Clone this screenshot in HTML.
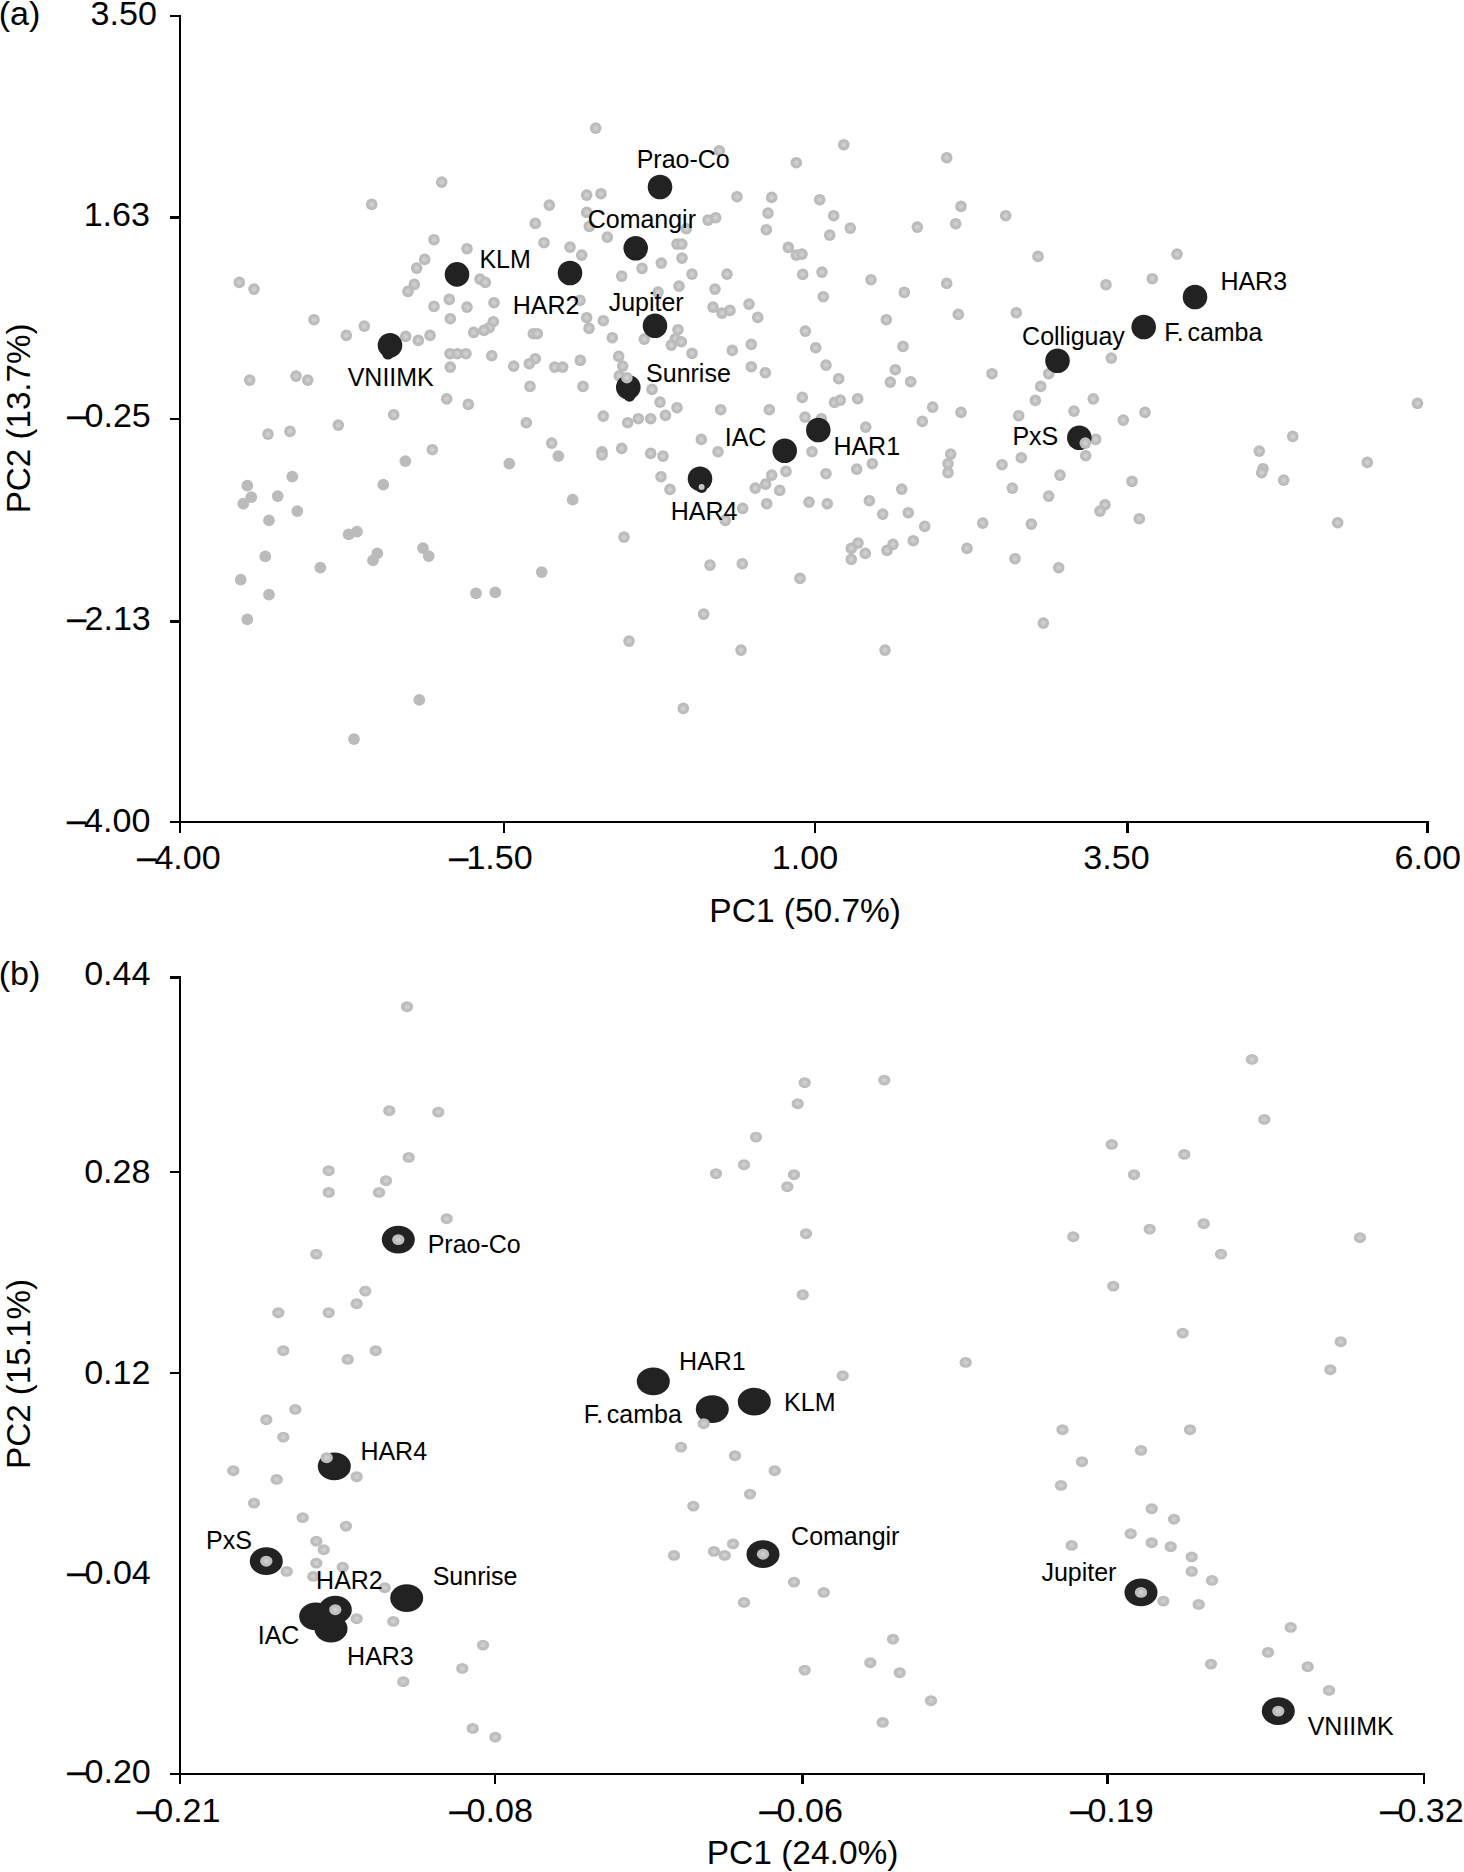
<!DOCTYPE html>
<html><head><meta charset="utf-8"><title>PCA</title>
<style>
html,body{margin:0;padding:0;background:#fff;}
body{width:1464px;height:1872px;overflow:hidden;}
svg{display:block;}
text{font-family:"Liberation Sans",sans-serif;fill:#000;}
.t{font-size:33.1px;}
.l{font-size:25.9px;}
</style></head><body>
<svg width="1464" height="1872" viewBox="0 0 1464 1872">
<defs>
<radialGradient id="ga"><stop offset="0" stop-color="#d0d0d0"/><stop offset="0.3" stop-color="#cdcdcd"/><stop offset="0.56" stop-color="#bdbdbd"/><stop offset="1" stop-color="#bababa"/></radialGradient>
<radialGradient id="gb"><stop offset="0" stop-color="#d1d1d1"/><stop offset="0.28" stop-color="#cdcdcd"/><stop offset="0.54" stop-color="#bfbfbf"/><stop offset="1" stop-color="#bcbcbc"/></radialGradient>
</defs>
<rect width="100%" height="100%" fill="#fff"/>
<g fill="#000" shape-rendering="crispEdges"><rect x="179" y="15" width="2" height="818"/><rect x="170" y="821" width="1259" height="2"/><rect x="170" y="15" width="11" height="2"/><rect x="170" y="216" width="11" height="3"/><rect x="170" y="418" width="11" height="2"/><rect x="170" y="620" width="11" height="3"/><rect x="503" y="821" width="2" height="12"/><rect x="814" y="821" width="2" height="12"/><rect x="1126" y="821" width="3" height="12"/><rect x="1426" y="821" width="3" height="12"/><rect x="179" y="976" width="2" height="808"/><rect x="170" y="1773" width="1255" height="2"/><rect x="170" y="976" width="11" height="3"/><rect x="170" y="1171" width="11" height="2"/><rect x="170" y="1372" width="11" height="2"/><rect x="494" y="1773" width="2" height="11"/><rect x="801" y="1773" width="3" height="11"/><rect x="1106" y="1773" width="3" height="11"/><rect x="1423" y="1773" width="2" height="11"/></g>
<text class="t" transform="translate(156.9,24.9) scale(1.03,1)" text-anchor="end">3.50</text>
<text class="t" transform="translate(150.0,226.2) scale(1.03,1)" text-anchor="end">1.63</text>
<text class="t" transform="translate(150.8,426.7) scale(1.03,1)" text-anchor="end"><tspan dy="-0.9" stroke="#000" stroke-width="0.55">–</tspan><tspan dy="0.9" dx="-1.8">0.25</tspan></text>
<text class="t" transform="translate(150.8,629.5) scale(1.03,1)" text-anchor="end"><tspan dy="-0.9" stroke="#000" stroke-width="0.55">–</tspan><tspan dy="0.9" dx="-1.8">2.13</tspan></text>
<text class="t" transform="translate(150.4,831.9) scale(1.03,1)" text-anchor="end"><tspan dy="-0.9" stroke="#000" stroke-width="0.55">–</tspan><tspan dy="0.9" dx="-1.8">4.00</tspan></text>
<text class="t" transform="translate(179,868.8) scale(1.03,1)" text-anchor="middle"><tspan dy="-0.9" stroke="#000" stroke-width="0.55">–</tspan><tspan dy="0.9" dx="-1.8">4.00</tspan></text>
<text class="t" transform="translate(491,868.8) scale(1.03,1)" text-anchor="middle"><tspan dy="-0.9" stroke="#000" stroke-width="0.55">–</tspan><tspan dy="0.9" dx="-1.8">1.50</tspan></text>
<text class="t" transform="translate(805,868.8) scale(1.03,1)" text-anchor="middle">1.00</text>
<text class="t" transform="translate(1116.5,868.8) scale(1.03,1)" text-anchor="middle">3.50</text>
<text class="t" transform="translate(1427.7,868.8) scale(1.03,1)" text-anchor="middle">6.00</text>
<text class="t" transform="translate(805.2,921.7) scale(1.012,1)" text-anchor="middle">PC1 (50.7%)</text>
<text class="t" transform="translate(30.3,418.4) rotate(-90) scale(1.003,1)" text-anchor="middle">PC2 (13.7%)</text>
<text class="t" transform="translate(-1.3,25.2) scale(1.03,1)" text-anchor="start">(a)</text>
<text class="t" transform="translate(150.5,985.1) scale(1.03,1)" text-anchor="end">0.44</text>
<text class="t" transform="translate(150.5,1183.3) scale(1.03,1)" text-anchor="end">0.28</text>
<text class="t" transform="translate(150.5,1384.1) scale(1.03,1)" text-anchor="end">0.12</text>
<text class="t" transform="translate(150.8,1583.5) scale(1.03,1)" text-anchor="end"><tspan dy="-0.9" stroke="#000" stroke-width="0.55">–</tspan><tspan dy="0.9" dx="-1.8">0.04</tspan></text>
<text class="t" transform="translate(150.8,1783.2) scale(1.03,1)" text-anchor="end"><tspan dy="-0.9" stroke="#000" stroke-width="0.55">–</tspan><tspan dy="0.9" dx="-1.8">0.20</tspan></text>
<text class="t" transform="translate(178.8,1821.5) scale(1.03,1)" text-anchor="middle"><tspan dy="-0.9" stroke="#000" stroke-width="0.55">–</tspan><tspan dy="0.9" dx="-1.8">0.21</tspan></text>
<text class="t" transform="translate(491.2,1821.5) scale(1.03,1)" text-anchor="middle"><tspan dy="-0.9" stroke="#000" stroke-width="0.55">–</tspan><tspan dy="0.9" dx="-1.8">0.08</tspan></text>
<text class="t" transform="translate(801.2,1821.5) scale(1.03,1)" text-anchor="middle"><tspan dy="-0.9" stroke="#000" stroke-width="0.55">–</tspan><tspan dy="0.9" dx="-1.8">0.06</tspan></text>
<text class="t" transform="translate(1112,1821.5) scale(1.03,1)" text-anchor="middle"><tspan dy="-0.9" stroke="#000" stroke-width="0.55">–</tspan><tspan dy="0.9" dx="-1.8">0.19</tspan></text>
<text class="t" transform="translate(1422,1821.5) scale(1.03,1)" text-anchor="middle"><tspan dy="-0.9" stroke="#000" stroke-width="0.55">–</tspan><tspan dy="0.9" dx="-1.8">0.32</tspan></text>
<text class="t" transform="translate(802.6,1863.7) scale(1.012,1)" text-anchor="middle">PC1 (24.0%)</text>
<text class="t" transform="translate(30.3,1374) rotate(-90) scale(1.003,1)" text-anchor="middle">PC2 (15.1%)</text>
<text class="t" transform="translate(-1.3,985.3) scale(1.03,1)" text-anchor="start">(b)</text>
<g><circle cx="595.7" cy="128.1" r="5.8" fill="url(#ga)"/><circle cx="441.7" cy="182.1" r="5.8" fill="url(#ga)"/><circle cx="371.7" cy="204.4" r="5.8" fill="url(#ga)"/><circle cx="586.7" cy="195.1" r="5.8" fill="url(#ga)"/><circle cx="601.0" cy="193.7" r="5.8" fill="url(#ga)"/><circle cx="549.3" cy="205.1" r="5.8" fill="url(#ga)"/><circle cx="586.7" cy="212.4" r="5.8" fill="url(#ga)"/><circle cx="535.3" cy="223.4" r="5.8" fill="url(#ga)"/><circle cx="589.3" cy="226.4" r="5.8" fill="url(#ga)"/><circle cx="607.3" cy="237.1" r="5.8" fill="url(#ga)"/><circle cx="544.0" cy="242.7" r="5.8" fill="url(#ga)"/><circle cx="570.0" cy="247.1" r="5.8" fill="url(#ga)"/><circle cx="581.7" cy="255.1" r="5.8" fill="url(#ga)"/><circle cx="434.0" cy="239.7" r="5.8" fill="url(#ga)"/><circle cx="467.0" cy="248.7" r="5.8" fill="url(#ga)"/><circle cx="424.7" cy="259.4" r="5.8" fill="url(#ga)"/><circle cx="416.7" cy="268.1" r="5.8" fill="url(#ga)"/><circle cx="414.3" cy="284.4" r="5.8" fill="url(#ga)"/><circle cx="408.0" cy="291.4" r="5.8" fill="url(#ga)"/><circle cx="480.0" cy="279.1" r="5.8" fill="url(#ga)"/><circle cx="485.3" cy="282.4" r="5.8" fill="url(#ga)"/><circle cx="239.3" cy="282.4" r="5.8" fill="url(#ga)"/><circle cx="254.0" cy="289.1" r="5.8" fill="url(#ga)"/><circle cx="449.3" cy="299.4" r="5.8" fill="url(#ga)"/><circle cx="434.0" cy="306.4" r="5.8" fill="url(#ga)"/><circle cx="467.0" cy="307.1" r="5.8" fill="url(#ga)"/><circle cx="494.0" cy="302.7" r="5.8" fill="url(#ga)"/><circle cx="450.3" cy="318.7" r="5.8" fill="url(#ga)"/><circle cx="493.3" cy="321.7" r="5.8" fill="url(#ga)"/><circle cx="489.3" cy="327.7" r="5.8" fill="url(#ga)"/><circle cx="484.0" cy="330.4" r="5.8" fill="url(#ga)"/><circle cx="473.7" cy="332.4" r="5.8" fill="url(#ga)"/><circle cx="314.0" cy="319.7" r="5.8" fill="url(#ga)"/><circle cx="364.3" cy="326.1" r="5.8" fill="url(#ga)"/><circle cx="346.3" cy="335.4" r="5.8" fill="url(#ga)"/><circle cx="405.7" cy="336.4" r="5.8" fill="url(#ga)"/><circle cx="430.0" cy="335.4" r="5.8" fill="url(#ga)"/><circle cx="418.3" cy="340.4" r="5.8" fill="url(#ga)"/><circle cx="661.3" cy="263.1" r="5.8" fill="url(#ga)"/><circle cx="642.0" cy="268.4" r="5.8" fill="url(#ga)"/><circle cx="621.7" cy="276.1" r="5.8" fill="url(#ga)"/><circle cx="658.0" cy="292.1" r="5.8" fill="url(#ga)"/><circle cx="580.0" cy="300.4" r="5.8" fill="url(#ga)"/><circle cx="586.7" cy="317.7" r="5.8" fill="url(#ga)"/><circle cx="603.3" cy="320.7" r="5.8" fill="url(#ga)"/><circle cx="589.0" cy="328.4" r="5.8" fill="url(#ga)"/><circle cx="612.3" cy="337.7" r="5.8" fill="url(#ga)"/><circle cx="644.3" cy="339.1" r="5.8" fill="url(#ga)"/><circle cx="533.3" cy="333.7" r="5.8" fill="url(#ga)"/><circle cx="537.3" cy="333.7" r="5.8" fill="url(#ga)"/><circle cx="450.0" cy="353.7" r="5.8" fill="url(#ga)"/><circle cx="457.3" cy="353.7" r="5.8" fill="url(#ga)"/><circle cx="466.0" cy="353.7" r="5.8" fill="url(#ga)"/><circle cx="491.7" cy="355.7" r="5.8" fill="url(#ga)"/><circle cx="535.3" cy="358.7" r="5.8" fill="url(#ga)"/><circle cx="529.3" cy="363.7" r="5.8" fill="url(#ga)"/><circle cx="513.7" cy="366.1" r="5.8" fill="url(#ga)"/><circle cx="554.7" cy="367.1" r="5.8" fill="url(#ga)"/><circle cx="562.7" cy="367.1" r="5.8" fill="url(#ga)"/><circle cx="580.3" cy="360.4" r="5.8" fill="url(#ga)"/><circle cx="618.7" cy="356.4" r="5.8" fill="url(#ga)"/><circle cx="622.7" cy="366.1" r="5.8" fill="url(#ga)"/><circle cx="450.3" cy="367.1" r="5.8" fill="url(#ga)"/><circle cx="249.7" cy="380.1" r="5.8" fill="url(#ga)"/><circle cx="296.0" cy="376.1" r="5.8" fill="url(#ga)"/><circle cx="307.7" cy="380.1" r="5.8" fill="url(#ga)"/><circle cx="530.0" cy="386.4" r="5.8" fill="url(#ga)"/><circle cx="583.0" cy="386.4" r="5.8" fill="url(#ga)"/><circle cx="652.0" cy="389.4" r="5.8" fill="url(#ga)"/><circle cx="619.3" cy="375.9" r="5.8" fill="url(#ga)"/><circle cx="446.7" cy="398.9" r="5.8" fill="url(#ga)"/><circle cx="468.3" cy="404.4" r="5.8" fill="url(#ga)"/><circle cx="843.7" cy="144.7" r="5.8" fill="url(#ga)"/><circle cx="719.3" cy="150.7" r="5.8" fill="url(#ga)"/><circle cx="796.3" cy="162.7" r="5.8" fill="url(#ga)"/><circle cx="946.7" cy="157.7" r="5.8" fill="url(#ga)"/><circle cx="737.0" cy="196.7" r="5.8" fill="url(#ga)"/><circle cx="771.7" cy="197.4" r="5.8" fill="url(#ga)"/><circle cx="819.7" cy="199.7" r="5.8" fill="url(#ga)"/><circle cx="961.0" cy="206.4" r="5.8" fill="url(#ga)"/><circle cx="768.0" cy="213.1" r="5.8" fill="url(#ga)"/><circle cx="833.7" cy="215.7" r="5.8" fill="url(#ga)"/><circle cx="1005.7" cy="215.7" r="5.8" fill="url(#ga)"/><circle cx="708.0" cy="220.1" r="5.8" fill="url(#ga)"/><circle cx="715.7" cy="217.7" r="5.8" fill="url(#ga)"/><circle cx="766.3" cy="229.7" r="5.8" fill="url(#ga)"/><circle cx="850.3" cy="228.1" r="5.8" fill="url(#ga)"/><circle cx="917.3" cy="227.1" r="5.8" fill="url(#ga)"/><circle cx="955.7" cy="223.7" r="5.8" fill="url(#ga)"/><circle cx="829.7" cy="235.1" r="5.8" fill="url(#ga)"/><circle cx="686.3" cy="228.7" r="5.8" fill="url(#ga)"/><circle cx="677.0" cy="244.1" r="5.8" fill="url(#ga)"/><circle cx="681.8" cy="244.1" r="5.8" fill="url(#ga)"/><circle cx="682.0" cy="258.1" r="5.8" fill="url(#ga)"/><circle cx="788.3" cy="247.4" r="5.8" fill="url(#ga)"/><circle cx="796.3" cy="255.1" r="5.8" fill="url(#ga)"/><circle cx="802.0" cy="254.1" r="5.8" fill="url(#ga)"/><circle cx="1038.0" cy="256.4" r="5.8" fill="url(#ga)"/><circle cx="692.0" cy="274.1" r="5.8" fill="url(#ga)"/><circle cx="727.0" cy="274.1" r="5.8" fill="url(#ga)"/><circle cx="802.7" cy="274.4" r="5.8" fill="url(#ga)"/><circle cx="822.0" cy="272.1" r="5.8" fill="url(#ga)"/><circle cx="871.0" cy="279.7" r="5.8" fill="url(#ga)"/><circle cx="946.7" cy="283.4" r="5.8" fill="url(#ga)"/><circle cx="1106.0" cy="284.7" r="5.8" fill="url(#ga)"/><circle cx="1152.3" cy="278.7" r="5.8" fill="url(#ga)"/><circle cx="679.0" cy="286.1" r="5.8" fill="url(#ga)"/><circle cx="715.0" cy="289.1" r="5.8" fill="url(#ga)"/><circle cx="904.3" cy="292.4" r="5.8" fill="url(#ga)"/><circle cx="823.3" cy="296.7" r="5.8" fill="url(#ga)"/><circle cx="713.0" cy="307.1" r="5.8" fill="url(#ga)"/><circle cx="722.0" cy="313.1" r="5.8" fill="url(#ga)"/><circle cx="730.0" cy="310.4" r="5.8" fill="url(#ga)"/><circle cx="749.0" cy="304.1" r="5.8" fill="url(#ga)"/><circle cx="757.7" cy="317.4" r="5.8" fill="url(#ga)"/><circle cx="886.3" cy="319.7" r="5.8" fill="url(#ga)"/><circle cx="958.3" cy="314.4" r="5.8" fill="url(#ga)"/><circle cx="1016.3" cy="312.7" r="5.8" fill="url(#ga)"/><circle cx="678.0" cy="329.7" r="5.8" fill="url(#ga)"/><circle cx="805.3" cy="331.1" r="5.8" fill="url(#ga)"/><circle cx="675.3" cy="338.7" r="5.8" fill="url(#ga)"/><circle cx="681.3" cy="341.7" r="5.8" fill="url(#ga)"/><circle cx="671.3" cy="345.1" r="5.8" fill="url(#ga)"/><circle cx="751.3" cy="344.4" r="5.8" fill="url(#ga)"/><circle cx="815.7" cy="347.7" r="5.8" fill="url(#ga)"/><circle cx="903.0" cy="346.4" r="5.8" fill="url(#ga)"/><circle cx="692.0" cy="353.4" r="5.8" fill="url(#ga)"/><circle cx="732.3" cy="350.4" r="5.8" fill="url(#ga)"/><circle cx="1111.3" cy="358.1" r="5.8" fill="url(#ga)"/><circle cx="751.3" cy="366.7" r="5.8" fill="url(#ga)"/><circle cx="765.3" cy="372.7" r="5.8" fill="url(#ga)"/><circle cx="826.0" cy="365.1" r="5.8" fill="url(#ga)"/><circle cx="895.3" cy="369.7" r="5.8" fill="url(#ga)"/><circle cx="838.7" cy="378.7" r="5.8" fill="url(#ga)"/><circle cx="890.3" cy="382.1" r="5.8" fill="url(#ga)"/><circle cx="910.7" cy="381.7" r="5.8" fill="url(#ga)"/><circle cx="992.0" cy="373.7" r="5.8" fill="url(#ga)"/><circle cx="1048.7" cy="373.7" r="5.8" fill="url(#ga)"/><circle cx="1040.7" cy="386.4" r="5.8" fill="url(#ga)"/><circle cx="802.3" cy="397.4" r="5.8" fill="url(#ga)"/><circle cx="834.5" cy="402.4" r="5.8" fill="url(#ga)"/><circle cx="840.3" cy="400.1" r="5.8" fill="url(#ga)"/><circle cx="857.7" cy="398.7" r="5.8" fill="url(#ga)"/><circle cx="1035.3" cy="400.4" r="5.8" fill="url(#ga)"/><circle cx="1093.3" cy="398.9" r="5.8" fill="url(#ga)"/><circle cx="1177.0" cy="254.1" r="5.8" fill="url(#ga)"/><circle cx="1417.5" cy="403.3" r="5.8" fill="url(#ga)"/><circle cx="393.7" cy="414.7" r="5.8" fill="url(#ga)"/><circle cx="338.3" cy="425.1" r="5.8" fill="url(#ga)"/><circle cx="268.0" cy="434.1" r="5.8" fill="url(#ga)"/><circle cx="290.0" cy="431.4" r="5.8" fill="url(#ga)"/><circle cx="526.3" cy="422.7" r="5.8" fill="url(#ga)"/><circle cx="603.3" cy="416.1" r="5.8" fill="url(#ga)"/><circle cx="627.7" cy="422.7" r="5.8" fill="url(#ga)"/><circle cx="638.3" cy="418.7" r="5.8" fill="url(#ga)"/><circle cx="650.7" cy="418.7" r="5.8" fill="url(#ga)"/><circle cx="665.5" cy="415.4" r="5.8" fill="url(#ga)"/><circle cx="660.0" cy="402.1" r="5.8" fill="url(#ga)"/><circle cx="551.7" cy="443.1" r="5.8" fill="url(#ga)"/><circle cx="558.3" cy="456.1" r="5.9" fill="#bbb"/><circle cx="432.3" cy="449.7" r="5.8" fill="url(#ga)"/><circle cx="405.3" cy="461.1" r="5.9" fill="#bbb"/><circle cx="509.3" cy="463.7" r="5.9" fill="#bbb"/><circle cx="602.0" cy="451.9" r="5.8" fill="url(#ga)"/><circle cx="602.0" cy="454.9" r="5.8" fill="url(#ga)"/><circle cx="621.7" cy="448.4" r="5.8" fill="url(#ga)"/><circle cx="650.7" cy="453.4" r="5.8" fill="url(#ga)"/><circle cx="663.0" cy="456.1" r="5.8" fill="url(#ga)"/><circle cx="661.0" cy="476.7" r="5.8" fill="url(#ga)"/><circle cx="670.0" cy="489.4" r="5.8" fill="url(#ga)"/><circle cx="292.3" cy="476.7" r="5.9" fill="#bbb"/><circle cx="247.3" cy="485.7" r="5.9" fill="#bbb"/><circle cx="251.3" cy="497.1" r="5.9" fill="#bbb"/><circle cx="243.3" cy="503.7" r="5.9" fill="#bbb"/><circle cx="277.7" cy="496.1" r="5.9" fill="#bbb"/><circle cx="383.3" cy="484.7" r="5.9" fill="#bbb"/><circle cx="297.3" cy="511.1" r="5.9" fill="#bbb"/><circle cx="269.0" cy="520.4" r="5.9" fill="#bbb"/><circle cx="572.7" cy="499.7" r="5.9" fill="#bbb"/><circle cx="348.7" cy="534.4" r="5.9" fill="#bbb"/><circle cx="357.0" cy="531.7" r="5.9" fill="#bbb"/><circle cx="624.0" cy="537.1" r="5.8" fill="url(#ga)"/><circle cx="423.0" cy="548.1" r="5.9" fill="#bbb"/><circle cx="428.7" cy="556.1" r="5.9" fill="#bbb"/><circle cx="377.3" cy="553.4" r="5.9" fill="#bbb"/><circle cx="373.0" cy="560.4" r="5.9" fill="#bbb"/><circle cx="265.3" cy="556.4" r="5.9" fill="#bbb"/><circle cx="320.3" cy="567.7" r="5.9" fill="#bbb"/><circle cx="541.7" cy="572.1" r="5.9" fill="#bbb"/><circle cx="240.7" cy="579.7" r="5.9" fill="#bbb"/><circle cx="269.0" cy="594.7" r="5.9" fill="#bbb"/><circle cx="476.0" cy="593.4" r="5.9" fill="#bbb"/><circle cx="495.3" cy="592.4" r="5.9" fill="#bbb"/><circle cx="247.3" cy="619.4" r="5.9" fill="#bbb"/><circle cx="629.0" cy="641.1" r="5.8" fill="url(#ga)"/><circle cx="419.3" cy="699.9" r="5.9" fill="#bbb"/><circle cx="354.0" cy="739.1" r="5.9" fill="#bbb"/><circle cx="677.0" cy="407.7" r="5.8" fill="url(#ga)"/><circle cx="720.7" cy="409.7" r="5.8" fill="url(#ga)"/><circle cx="769.3" cy="409.7" r="5.8" fill="url(#ga)"/><circle cx="805.0" cy="417.1" r="5.8" fill="url(#ga)"/><circle cx="821.3" cy="418.7" r="5.8" fill="url(#ga)"/><circle cx="932.7" cy="407.1" r="5.8" fill="url(#ga)"/><circle cx="922.3" cy="421.4" r="5.8" fill="url(#ga)"/><circle cx="961.0" cy="412.4" r="5.8" fill="url(#ga)"/><circle cx="1018.7" cy="415.7" r="5.8" fill="url(#ga)"/><circle cx="1074.0" cy="411.1" r="5.8" fill="url(#ga)"/><circle cx="1123.3" cy="420.1" r="5.8" fill="url(#ga)"/><circle cx="1145.0" cy="412.4" r="5.8" fill="url(#ga)"/><circle cx="865.7" cy="427.1" r="5.8" fill="url(#ga)"/><circle cx="701.3" cy="439.4" r="5.8" fill="url(#ga)"/><circle cx="718.0" cy="451.7" r="5.8" fill="url(#ga)"/><circle cx="812.0" cy="451.7" r="5.8" fill="url(#ga)"/><circle cx="1095.7" cy="439.4" r="5.8" fill="url(#ga)"/><circle cx="1085.7" cy="455.7" r="5.8" fill="url(#ga)"/><circle cx="950.7" cy="454.1" r="5.8" fill="url(#ga)"/><circle cx="948.0" cy="463.7" r="5.8" fill="url(#ga)"/><circle cx="948.0" cy="472.7" r="5.8" fill="url(#ga)"/><circle cx="1002.0" cy="464.7" r="5.8" fill="url(#ga)"/><circle cx="1021.3" cy="457.7" r="5.8" fill="url(#ga)"/><circle cx="872.3" cy="463.7" r="5.8" fill="url(#ga)"/><circle cx="856.7" cy="469.1" r="5.8" fill="url(#ga)"/><circle cx="826.0" cy="473.7" r="5.8" fill="url(#ga)"/><circle cx="786.0" cy="471.4" r="5.8" fill="url(#ga)"/><circle cx="771.7" cy="475.1" r="5.8" fill="url(#ga)"/><circle cx="765.7" cy="484.1" r="5.8" fill="url(#ga)"/><circle cx="755.3" cy="488.1" r="5.8" fill="url(#ga)"/><circle cx="779.7" cy="490.4" r="5.8" fill="url(#ga)"/><circle cx="1060.0" cy="475.1" r="5.8" fill="url(#ga)"/><circle cx="1132.0" cy="481.4" r="5.8" fill="url(#ga)"/><circle cx="1012.3" cy="488.1" r="5.8" fill="url(#ga)"/><circle cx="901.7" cy="489.1" r="5.8" fill="url(#ga)"/><circle cx="1048.7" cy="496.1" r="5.8" fill="url(#ga)"/><circle cx="869.3" cy="500.7" r="5.8" fill="url(#ga)"/><circle cx="809.0" cy="502.1" r="5.8" fill="url(#ga)"/><circle cx="827.3" cy="503.7" r="5.8" fill="url(#ga)"/><circle cx="766.7" cy="503.7" r="5.8" fill="url(#ga)"/><circle cx="742.7" cy="508.4" r="5.8" fill="url(#ga)"/><circle cx="1105.0" cy="504.7" r="5.8" fill="url(#ga)"/><circle cx="1100.0" cy="511.1" r="5.8" fill="url(#ga)"/><circle cx="1139.3" cy="518.7" r="5.8" fill="url(#ga)"/><circle cx="882.7" cy="514.1" r="5.8" fill="url(#ga)"/><circle cx="908.3" cy="512.7" r="5.8" fill="url(#ga)"/><circle cx="725.3" cy="520.4" r="5.8" fill="url(#ga)"/><circle cx="924.7" cy="526.4" r="5.8" fill="url(#ga)"/><circle cx="982.7" cy="523.1" r="5.8" fill="url(#ga)"/><circle cx="1031.3" cy="524.1" r="5.8" fill="url(#ga)"/><circle cx="913.3" cy="540.7" r="5.8" fill="url(#ga)"/><circle cx="893.0" cy="544.4" r="5.8" fill="url(#ga)"/><circle cx="887.0" cy="550.4" r="5.8" fill="url(#ga)"/><circle cx="858.0" cy="543.1" r="5.8" fill="url(#ga)"/><circle cx="851.3" cy="548.4" r="5.8" fill="url(#ga)"/><circle cx="865.3" cy="553.4" r="5.8" fill="url(#ga)"/><circle cx="851.3" cy="559.4" r="5.8" fill="url(#ga)"/><circle cx="967.0" cy="548.4" r="5.8" fill="url(#ga)"/><circle cx="1015.0" cy="558.7" r="5.8" fill="url(#ga)"/><circle cx="1058.7" cy="567.7" r="5.8" fill="url(#ga)"/><circle cx="710.0" cy="565.1" r="5.8" fill="url(#ga)"/><circle cx="742.3" cy="563.7" r="5.8" fill="url(#ga)"/><circle cx="800.0" cy="578.4" r="5.8" fill="url(#ga)"/><circle cx="703.7" cy="614.1" r="5.8" fill="url(#ga)"/><circle cx="1043.3" cy="623.1" r="5.8" fill="url(#ga)"/><circle cx="741.0" cy="650.1" r="5.8" fill="url(#ga)"/><circle cx="885.0" cy="650.1" r="5.8" fill="url(#ga)"/><circle cx="683.3" cy="708.4" r="5.8" fill="url(#ga)"/><circle cx="1292.7" cy="436.4" r="5.8" fill="url(#ga)"/><circle cx="1259.3" cy="451.1" r="5.8" fill="url(#ga)"/><circle cx="1263.0" cy="468.7" r="5.8" fill="url(#ga)"/><circle cx="1261.7" cy="472.7" r="5.8" fill="url(#ga)"/><circle cx="1283.7" cy="480.1" r="5.8" fill="url(#ga)"/><circle cx="1367.3" cy="462.4" r="5.8" fill="url(#ga)"/><circle cx="1337.7" cy="522.7" r="5.8" fill="url(#ga)"/></g>
<g fill="#222"><circle cx="457" cy="274.4" r="12.3"/><circle cx="570" cy="273" r="12.3"/><circle cx="635.7" cy="248.3" r="12.3"/><circle cx="660" cy="187" r="12.3"/><circle cx="655" cy="325.7" r="12.3"/><circle cx="390" cy="345.3" r="12.3"/><circle cx="628.3" cy="387.3" r="12.3"/><circle cx="1057.5" cy="360.7" r="12.3"/><circle cx="1143.7" cy="327" r="12.3"/><circle cx="1195" cy="297" r="12.3"/><circle cx="700" cy="478.7" r="12.3"/><circle cx="784.7" cy="450.7" r="12.3"/><circle cx="818.3" cy="430" r="12.3"/><circle cx="1079.3" cy="437.7" r="12.3"/><circle cx="388" cy="353.8" r="5.8"/><circle cx="629.5" cy="396" r="5.8"/><circle cx="701.6" cy="487.1" r="5.8"/></g>
<g><circle cx="701.6" cy="487.1" r="3" fill="#c6c6c6"/><circle cx="1085.3" cy="443.1" r="5.8" fill="url(#ga)"/><circle cx="626.9" cy="377.7" r="5.8" fill="url(#ga)"/></g>
<text class="l" transform="translate(636.6999999999999,168.0) scale(0.965,1)" text-anchor="start">Prao-Co</text>
<text class="l" transform="translate(587.6999999999999,228.0) scale(0.965,1)" text-anchor="start">Comangir</text>
<text class="l" transform="translate(479.4,268.4) scale(0.965,1)" text-anchor="start">KLM</text>
<text class="l" transform="translate(512.6999999999999,314.0) scale(0.965,1)" text-anchor="start">HAR2</text>
<text class="l" transform="translate(608.6999999999999,310.7) scale(0.965,1)" text-anchor="start">Jupiter</text>
<text class="l" transform="translate(347.7,386.0) scale(0.965,1)" text-anchor="start">VNIIMK</text>
<text class="l" transform="translate(646.1,381.7) scale(0.965,1)" text-anchor="start">Sunrise</text>
<text class="l" transform="translate(724.6999999999999,445.7) scale(0.965,1)" text-anchor="start">IAC</text>
<text class="l" transform="translate(833.4,455.4) scale(0.965,1)" text-anchor="start">HAR1</text>
<text class="l" transform="translate(670.6999999999999,519.7) scale(0.965,1)" text-anchor="start">HAR4</text>
<text class="l" transform="translate(1012.4,445.0) scale(0.965,1)" text-anchor="start">PxS</text>
<text class="l" transform="translate(1022.1,344.7) scale(0.965,1)" text-anchor="start">Colliguay</text>
<text class="l" transform="translate(1164.3,340.7) scale(0.965,1)" text-anchor="start">F.<tspan dx="-3.4"> camba</tspan></text>
<text class="l" transform="translate(1220.4,289.7) scale(0.965,1)" text-anchor="start">HAR3</text>
<g><ellipse cx="407.0" cy="1006.7" rx="6.15" ry="5.45" fill="url(#gb)"/><ellipse cx="389.3" cy="1110.7" rx="6.15" ry="5.45" fill="url(#gb)"/><ellipse cx="438.3" cy="1112.1" rx="6.15" ry="5.45" fill="url(#gb)"/><ellipse cx="408.7" cy="1157.4" rx="6.15" ry="5.45" fill="url(#gb)"/><ellipse cx="328.7" cy="1170.7" rx="6.15" ry="5.45" fill="url(#gb)"/><ellipse cx="386.0" cy="1180.7" rx="6.15" ry="5.45" fill="url(#gb)"/><ellipse cx="328.7" cy="1192.4" rx="6.15" ry="5.45" fill="url(#gb)"/><ellipse cx="379.0" cy="1192.4" rx="6.15" ry="5.45" fill="url(#gb)"/><ellipse cx="446.7" cy="1218.7" rx="6.15" ry="5.45" fill="url(#gb)"/><ellipse cx="316.3" cy="1254.1" rx="6.15" ry="5.45" fill="url(#gb)"/><ellipse cx="804.7" cy="1082.7" rx="6.15" ry="5.45" fill="url(#gb)"/><ellipse cx="884.3" cy="1080.1" rx="6.15" ry="5.45" fill="url(#gb)"/><ellipse cx="797.7" cy="1103.7" rx="6.15" ry="5.45" fill="url(#gb)"/><ellipse cx="756.0" cy="1137.1" rx="6.15" ry="5.45" fill="url(#gb)"/><ellipse cx="744.0" cy="1164.7" rx="6.15" ry="5.45" fill="url(#gb)"/><ellipse cx="716.0" cy="1173.7" rx="6.15" ry="5.45" fill="url(#gb)"/><ellipse cx="794.0" cy="1174.7" rx="6.15" ry="5.45" fill="url(#gb)"/><ellipse cx="787.3" cy="1186.7" rx="6.15" ry="5.45" fill="url(#gb)"/><ellipse cx="806.0" cy="1233.7" rx="6.15" ry="5.45" fill="url(#gb)"/><ellipse cx="1111.7" cy="1144.4" rx="6.15" ry="5.45" fill="url(#gb)"/><ellipse cx="1134.0" cy="1174.7" rx="6.15" ry="5.45" fill="url(#gb)"/><ellipse cx="1073.3" cy="1236.7" rx="6.15" ry="5.45" fill="url(#gb)"/><ellipse cx="1149.7" cy="1229.1" rx="6.15" ry="5.45" fill="url(#gb)"/><ellipse cx="1252.0" cy="1059.4" rx="6.15" ry="5.45" fill="url(#gb)"/><ellipse cx="1264.3" cy="1119.4" rx="6.15" ry="5.45" fill="url(#gb)"/><ellipse cx="1184.3" cy="1154.4" rx="6.15" ry="5.45" fill="url(#gb)"/><ellipse cx="1203.7" cy="1223.7" rx="6.15" ry="5.45" fill="url(#gb)"/><ellipse cx="1221.0" cy="1254.1" rx="6.15" ry="5.45" fill="url(#gb)"/><ellipse cx="1360.0" cy="1237.7" rx="6.15" ry="5.45" fill="url(#gb)"/><ellipse cx="365.3" cy="1291.1" rx="6.15" ry="5.45" fill="url(#gb)"/><ellipse cx="356.7" cy="1303.7" rx="6.15" ry="5.45" fill="url(#gb)"/><ellipse cx="278.3" cy="1312.7" rx="6.15" ry="5.45" fill="url(#gb)"/><ellipse cx="328.7" cy="1312.7" rx="6.15" ry="5.45" fill="url(#gb)"/><ellipse cx="283.3" cy="1350.7" rx="6.15" ry="5.45" fill="url(#gb)"/><ellipse cx="347.7" cy="1359.4" rx="6.15" ry="5.45" fill="url(#gb)"/><ellipse cx="375.7" cy="1350.7" rx="6.15" ry="5.45" fill="url(#gb)"/><ellipse cx="295.3" cy="1409.4" rx="6.15" ry="5.45" fill="url(#gb)"/><ellipse cx="266.3" cy="1419.7" rx="6.15" ry="5.45" fill="url(#gb)"/><ellipse cx="283.3" cy="1437.1" rx="6.15" ry="5.45" fill="url(#gb)"/><ellipse cx="233.3" cy="1470.7" rx="6.15" ry="5.45" fill="url(#gb)"/><ellipse cx="276.7" cy="1479.4" rx="6.15" ry="5.45" fill="url(#gb)"/><ellipse cx="356.7" cy="1476.7" rx="6.15" ry="5.45" fill="url(#gb)"/><ellipse cx="254.0" cy="1503.1" rx="6.15" ry="5.45" fill="url(#gb)"/><ellipse cx="302.7" cy="1517.6" rx="6.15" ry="5.45" fill="url(#gb)"/><ellipse cx="346.0" cy="1526.2" rx="6.15" ry="5.45" fill="url(#gb)"/><ellipse cx="316.3" cy="1541.2" rx="6.15" ry="5.45" fill="url(#gb)"/><ellipse cx="323.7" cy="1549.7" rx="6.15" ry="5.45" fill="url(#gb)"/><ellipse cx="316.3" cy="1563.1" rx="6.15" ry="5.45" fill="url(#gb)"/><ellipse cx="342.7" cy="1567.1" rx="6.15" ry="5.45" fill="url(#gb)"/><ellipse cx="286.7" cy="1571.4" rx="6.15" ry="5.45" fill="url(#gb)"/><ellipse cx="802.7" cy="1294.7" rx="6.15" ry="5.45" fill="url(#gb)"/><ellipse cx="842.7" cy="1375.7" rx="6.15" ry="5.45" fill="url(#gb)"/><ellipse cx="965.7" cy="1362.4" rx="6.15" ry="5.45" fill="url(#gb)"/><ellipse cx="681.0" cy="1447.1" rx="6.15" ry="5.45" fill="url(#gb)"/><ellipse cx="735.0" cy="1455.7" rx="6.15" ry="5.45" fill="url(#gb)"/><ellipse cx="774.7" cy="1470.7" rx="6.15" ry="5.45" fill="url(#gb)"/><ellipse cx="750.0" cy="1494.1" rx="6.15" ry="5.45" fill="url(#gb)"/><ellipse cx="693.3" cy="1506.1" rx="6.15" ry="5.45" fill="url(#gb)"/><ellipse cx="733.0" cy="1543.9" rx="6.15" ry="5.45" fill="url(#gb)"/><ellipse cx="714.0" cy="1551.4" rx="6.15" ry="5.45" fill="url(#gb)"/><ellipse cx="724.7" cy="1555.4" rx="6.15" ry="5.45" fill="url(#gb)"/><ellipse cx="674.0" cy="1555.4" rx="6.15" ry="5.45" fill="url(#gb)"/><ellipse cx="1062.5" cy="1429.7" rx="6.15" ry="5.45" fill="url(#gb)"/><ellipse cx="1061.0" cy="1485.4" rx="6.15" ry="5.45" fill="url(#gb)"/><ellipse cx="1113.3" cy="1286.1" rx="6.15" ry="5.45" fill="url(#gb)"/><ellipse cx="1182.7" cy="1333.1" rx="6.15" ry="5.45" fill="url(#gb)"/><ellipse cx="1340.7" cy="1341.7" rx="6.15" ry="5.45" fill="url(#gb)"/><ellipse cx="1330.3" cy="1369.7" rx="6.15" ry="5.45" fill="url(#gb)"/><ellipse cx="1190.0" cy="1429.7" rx="6.15" ry="5.45" fill="url(#gb)"/><ellipse cx="1141.0" cy="1450.4" rx="6.15" ry="5.45" fill="url(#gb)"/><ellipse cx="1082.0" cy="1461.7" rx="6.15" ry="5.45" fill="url(#gb)"/><ellipse cx="1151.7" cy="1508.7" rx="6.15" ry="5.45" fill="url(#gb)"/><ellipse cx="1174.0" cy="1519.2" rx="6.15" ry="5.45" fill="url(#gb)"/><ellipse cx="1130.7" cy="1533.7" rx="6.15" ry="5.45" fill="url(#gb)"/><ellipse cx="1151.7" cy="1542.7" rx="6.15" ry="5.45" fill="url(#gb)"/><ellipse cx="1170.7" cy="1546.7" rx="6.15" ry="5.45" fill="url(#gb)"/><ellipse cx="1071.7" cy="1545.4" rx="6.15" ry="5.45" fill="url(#gb)"/><ellipse cx="1191.7" cy="1556.9" rx="6.15" ry="5.45" fill="url(#gb)"/><ellipse cx="1191.7" cy="1571.4" rx="6.15" ry="5.45" fill="url(#gb)"/><ellipse cx="313.3" cy="1576.4" rx="6.15" ry="5.45" fill="url(#gb)"/><ellipse cx="384.7" cy="1587.7" rx="6.15" ry="5.45" fill="url(#gb)"/><ellipse cx="356.7" cy="1618.7" rx="6.15" ry="5.45" fill="url(#gb)"/><ellipse cx="393.3" cy="1621.4" rx="6.15" ry="5.45" fill="url(#gb)"/><ellipse cx="483.0" cy="1645.1" rx="6.15" ry="5.45" fill="url(#gb)"/><ellipse cx="462.3" cy="1668.4" rx="6.15" ry="5.45" fill="url(#gb)"/><ellipse cx="403.3" cy="1681.7" rx="6.15" ry="5.45" fill="url(#gb)"/><ellipse cx="472.7" cy="1728.4" rx="6.15" ry="5.45" fill="url(#gb)"/><ellipse cx="495.3" cy="1737.1" rx="6.15" ry="5.45" fill="url(#gb)"/><ellipse cx="794.0" cy="1582.1" rx="6.15" ry="5.45" fill="url(#gb)"/><ellipse cx="823.7" cy="1592.4" rx="6.15" ry="5.45" fill="url(#gb)"/><ellipse cx="744.0" cy="1602.4" rx="6.15" ry="5.45" fill="url(#gb)"/><ellipse cx="893.0" cy="1639.1" rx="6.15" ry="5.45" fill="url(#gb)"/><ellipse cx="870.3" cy="1662.7" rx="6.15" ry="5.45" fill="url(#gb)"/><ellipse cx="899.7" cy="1672.7" rx="6.15" ry="5.45" fill="url(#gb)"/><ellipse cx="804.7" cy="1670.1" rx="6.15" ry="5.45" fill="url(#gb)"/><ellipse cx="931.0" cy="1700.7" rx="6.15" ry="5.45" fill="url(#gb)"/><ellipse cx="882.7" cy="1722.4" rx="6.15" ry="5.45" fill="url(#gb)"/><ellipse cx="1212.0" cy="1580.4" rx="6.15" ry="5.45" fill="url(#gb)"/><ellipse cx="1163.3" cy="1601.1" rx="6.15" ry="5.45" fill="url(#gb)"/><ellipse cx="1198.7" cy="1604.4" rx="6.15" ry="5.45" fill="url(#gb)"/><ellipse cx="1290.7" cy="1627.4" rx="6.15" ry="5.45" fill="url(#gb)"/><ellipse cx="1268.0" cy="1652.4" rx="6.15" ry="5.45" fill="url(#gb)"/><ellipse cx="1307.7" cy="1666.7" rx="6.15" ry="5.45" fill="url(#gb)"/><ellipse cx="1211.0" cy="1664.1" rx="6.15" ry="5.45" fill="url(#gb)"/><ellipse cx="1329.0" cy="1690.4" rx="6.15" ry="5.45" fill="url(#gb)"/></g>
<g><ellipse cx="398.3" cy="1239.6" rx="16.5" ry="13.9" fill="#222"/><ellipse cx="398.3" cy="1239.6" rx="6.15" ry="5.45" fill="url(#gb)"/><ellipse cx="334.3" cy="1466.4" rx="16.5" ry="13.9" fill="#222"/><ellipse cx="266.3" cy="1561.2" rx="16.5" ry="13.9" fill="#222"/><ellipse cx="266.3" cy="1561.2" rx="6.15" ry="5.45" fill="url(#gb)"/><ellipse cx="653.3" cy="1381.4" rx="16.5" ry="13.9" fill="#222"/><ellipse cx="712.3" cy="1409.1" rx="16.5" ry="13.9" fill="#222"/><ellipse cx="754.3" cy="1401.7" rx="16.5" ry="13.9" fill="#222"/><ellipse cx="763" cy="1554.2" rx="16.5" ry="13.9" fill="#222"/><ellipse cx="763" cy="1554.2" rx="6.15" ry="5.45" fill="url(#gb)"/><ellipse cx="406.7" cy="1598.1" rx="16.5" ry="13.9" fill="#222"/><ellipse cx="315.7" cy="1616.4" rx="16.5" ry="13.9" fill="#222"/><ellipse cx="331" cy="1628.7" rx="16.5" ry="13.9" fill="#222"/><ellipse cx="335.3" cy="1609.7" rx="16.5" ry="13.9" fill="#222"/><ellipse cx="335.3" cy="1609.7" rx="6.15" ry="5.45" fill="url(#gb)"/><ellipse cx="1141" cy="1592.4" rx="16.5" ry="13.9" fill="#222"/><ellipse cx="1141" cy="1592.4" rx="6.15" ry="5.45" fill="url(#gb)"/><ellipse cx="1278.3" cy="1711.1" rx="16.5" ry="13.9" fill="#222"/><ellipse cx="1278.3" cy="1711.1" rx="6.15" ry="5.45" fill="url(#gb)"/></g>
<g><ellipse cx="326.7" cy="1457.7" rx="6.15" ry="5.45" fill="url(#gb)"/><ellipse cx="703.7" cy="1423.7" rx="6.15" ry="5.45" fill="url(#gb)"/></g>
<text class="l" transform="translate(427.7,1253.0) scale(0.965,1)" text-anchor="start">Prao-Co</text>
<text class="l" transform="translate(679.1,1370.3) scale(0.965,1)" text-anchor="start">HAR1</text>
<text class="l" transform="translate(784.1,1411.0) scale(0.965,1)" text-anchor="start">KLM</text>
<text class="l" transform="translate(583.7,1423.3) scale(0.965,1)" text-anchor="start">F.<tspan dx="-3.4"> camba</tspan></text>
<text class="l" transform="translate(360.4,1460.0) scale(0.965,1)" text-anchor="start">HAR4</text>
<text class="l" transform="translate(206.1,1548.8) scale(0.965,1)" text-anchor="start">PxS</text>
<text class="l" transform="translate(791.1,1545.3) scale(0.965,1)" text-anchor="start">Comangir</text>
<text class="l" transform="translate(432.7,1585.0) scale(0.965,1)" text-anchor="start">Sunrise</text>
<text class="l" transform="translate(316.09999999999997,1589.3) scale(0.965,1)" text-anchor="start">HAR2</text>
<text class="l" transform="translate(257.7,1644.3) scale(0.965,1)" text-anchor="start">IAC</text>
<text class="l" transform="translate(347.09999999999997,1665.3) scale(0.965,1)" text-anchor="start">HAR3</text>
<text class="l" transform="translate(1041.4,1581.0) scale(0.965,1)" text-anchor="start">Jupiter</text>
<text class="l" transform="translate(1307.7,1735.3) scale(0.965,1)" text-anchor="start">VNIIMK</text>
</svg>
</body></html>
